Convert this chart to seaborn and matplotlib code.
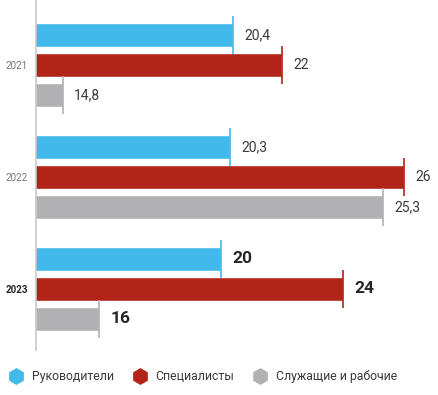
import matplotlib
matplotlib.use("Agg")
import matplotlib.pyplot as plt
from matplotlib.lines import Line2D
import seaborn as sns
import pandas as pd

years = ["2021", "2022", "2023"]
categories = ["Руководители", "Специалисты", "Служащие и рабочие"]
managers = [20.4, 20.3, 20]
specialists = [22, 26, 24]
workers = [14.8, 25.3, 16]
colors = ["#41B9EA", "#B22418", "#B1B1B3"]

sns.set_theme(style="white")
plt.rcParams["font.family"] = ["Roboto", "DejaVu Sans"]
TXT = "#3a3a3a"

rows = []
for cat, vals in zip(categories, [managers, specialists, workers]):
    for y, v in zip(years, vals):
        rows.append({"year": y, "category": cat, "value": v})
df = pd.DataFrame(rows)

fig = plt.figure(figsize=(4.38, 3.95), dpi=100)
ax = fig.add_axes([36 / 438, 1 - 350 / 395, (438 - 36) / 438, 350 / 395])

sns.barplot(data=df, y="year", x="value", hue="category", order=years,
            hue_order=categories, palette=colors, saturation=1, orient="h",
            width=0.804, gap=0.2, legend=False, ax=ax)

ax.set_xlim(13.93, 27.1)
ax.set_ylim(2.545, -0.58)

# end tick lines
for cont, col in zip(ax.containers, colors):
    for p in cont:
        x = p.get_x() + p.get_width()
        y0 = p.get_y()
        ax.vlines(x, y0 - 0.065, y0 + p.get_height() + 0.065, color=col, lw=1.2)

# value labels
for cont, vals in zip(ax.containers, [managers, specialists, workers]):
    labs = [f"{v:g}".replace(".", ",") for v in vals]
    texts = ax.bar_label(cont, labels=labs, padding=8, fontsize=10, color=TXT)
    for t, yr in zip(texts, years):
        if yr == "2023":
            t.set_fontsize(12.5)
            t.set_fontweight("bold")
            t.set_color("#262626")

ax.set_xlabel("")
ax.set_ylabel("")
ax.set_xticks([])
ax.tick_params(axis="y", length=0, pad=6)
for lab in ax.get_yticklabels():
    lab.set_fontsize(7)
    if lab.get_text() == "2023":
        lab.set_fontweight("bold")
        lab.set_color("#262626")
    else:
        lab.set_color("#777777")

for s in ["top", "right", "bottom"]:
    ax.spines[s].set_visible(False)
ax.spines["left"].set_color("#C8C8C8")
ax.spines["left"].set_linewidth(1.2)

handles = [Line2D([], [], marker="h", linestyle="none", markersize=11,
                  markerfacecolor=c, markeredgecolor=c) for c in colors]
fig.legend(handles, categories, loc="center", bbox_to_anchor=(0.465, 0.046),
           ncol=3, frameon=False, fontsize=8.8, labelcolor=TXT,
           handletextpad=0.8, columnspacing=1.6, handlelength=1.0)

fig.savefig("out.png", dpi=100)
